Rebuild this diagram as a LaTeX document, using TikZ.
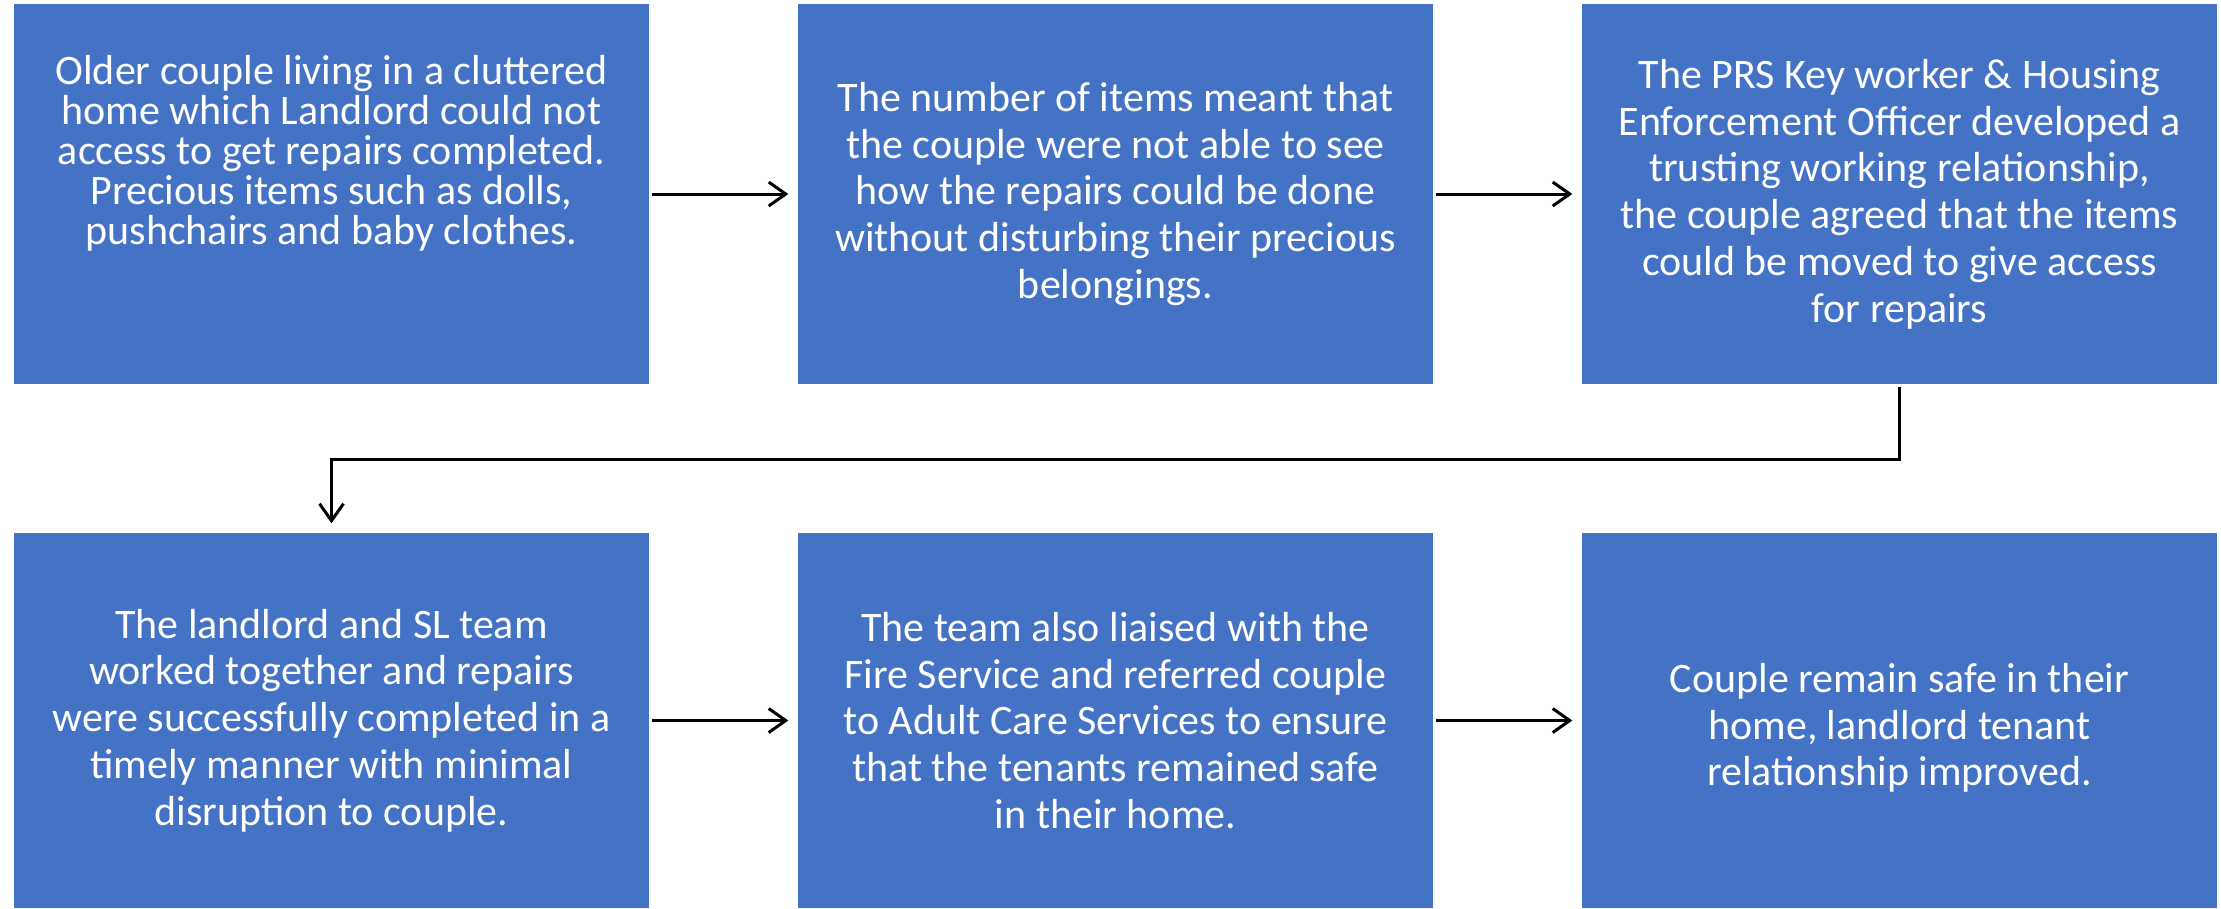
\documentclass[tikz,border=0pt]{standalone}
\usepackage{fontspec}
\setmainfont{Carlito}
\usetikzlibrary{arrows.meta}
\definecolor{boxblue}{HTML}{4472C4}

\tikzset{
  stepbox/.style={fill=boxblue, text=white, align=center, inner sep=0pt,
    minimum width=6.35cm, minimum height=3.8cm,
    font=\fontsize{11.95}{13.3}\selectfont},
  flow/.style={-{Straight Barb[length=0.17cm,width=0.24cm]}, line width=0.03cm,
    shorten >=0.09cm, shorten <=0.02cm}
}

\begin{document}
\begin{tikzpicture}
 \useasboundingbox (0,0) rectangle (22.21,-9.08);

 %level 1
 \def\dx{3.315}
 \def\dy{-1.94}
 \node[stepbox, font=\fontsize{11.95}{11.4}\selectfont] (b1) at (0*7.84 + \dx, \dy)
   {Older couple living in a cluttered\\home which Landlord could not\\access to get repairs completed.\\Precious items such as dolls,\\pushchairs and baby clothes.\\[0.08cm]\mbox{}\\\mbox{}};
 \node[stepbox] (b2) at (1*7.84 + \dx, \dy)
   {The number of items meant that\\the couple were not able to see\\how the repairs could be done\\without disturbing their precious\\belongings.};
 \node[stepbox] (b3) at (2*7.84 + \dx, \dy)
   {The PRS Key worker \& Housing\\Enforcement Officer developed a\\trusting working relationship,\\the couple agreed that the items\\could be moved to give access\\for repairs};

 %level 2
 \def\dy{-7.205}
 \node[stepbox, minimum height=3.75cm] (b4) at (0*7.84 + \dx, \dy)
   {The landlord and SL team\\worked together and repairs\\were successfully completed in a\\timely manner with minimal\\disruption to couple.};
 \node[stepbox, minimum height=3.75cm] (b5) at (1*7.84 + \dx, \dy)
   {The team also liaised with the\\Fire Service and referred couple\\to Adult Care Services to ensure\\that the tenants remained safe\\in their home.};
 \node[stepbox, minimum height=3.75cm] (b6) at (2*7.84 + \dx, \dy)
   {\rule{0pt}{0.44cm}Couple remain safe in their\\home, landlord tenant\\relationship improved.};

 %arrows
 \foreach \a/\b in {b1/b2, b2/b3, b4/b5, b5/b6} {
   \draw[flow] (\a) -- (\b);
 }
 \draw[flow] (b3.south) -- ++(0,-0.75) -| (b4.north);

\end{tikzpicture}
\end{document}
